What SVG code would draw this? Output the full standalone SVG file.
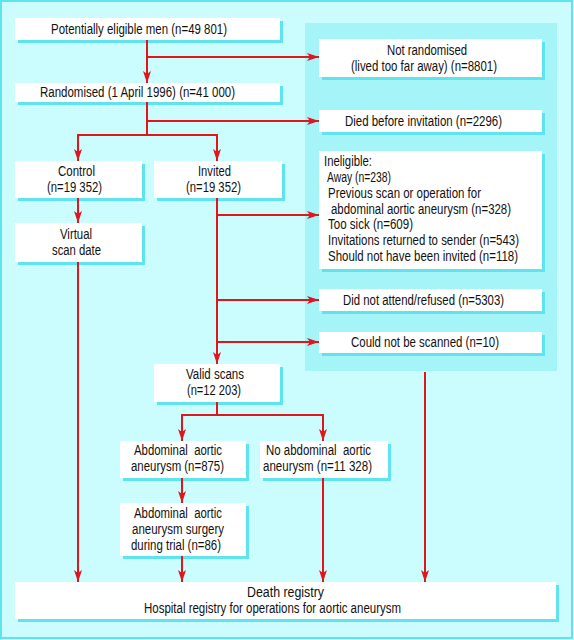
<svg xmlns="http://www.w3.org/2000/svg" width="574" height="640" viewBox="0 0 574 640">
<defs>
<style>
.bg{fill:#ccfdfe;stroke:#5fe3ec;stroke-width:2}
.panel{fill:#a5f5f8}
.sh{fill:#5fe3ec}
.bx{fill:#ffffff}
text{font-family:"Liberation Sans",Arial,sans-serif;font-size:14px;fill:#111}
.pre{white-space:pre}
.ln{fill:none;stroke:#e0161d;stroke-width:2}
</style>
<marker id="ah" viewBox="0 0 12 8" refX="12" refY="4" markerWidth="12" markerHeight="8" markerUnits="userSpaceOnUse" orient="auto">
<path d="M0,0 L12,4 L0,8 L3,4 z" fill="#e0161d"/>
</marker>
</defs>
<rect class="bg" x="1" y="1" width="571" height="637"/>
<rect class="panel" x="305" y="23" width="252" height="348"/>

<g id="n-eligible">
<rect class="sh" x="18" y="21" width="265" height="22"/>
<rect class="bx" x="15" y="18" width="265" height="22"/>
<text x="51" y="34" textLength="176" lengthAdjust="spacingAndGlyphs">Potentially eligible men (n=49 801)</text>
</g>
<g id="n-randomised">
<rect class="sh" x="18" y="86" width="265" height="19"/>
<rect class="bx" x="15" y="83" width="265" height="19"/>
<text x="40" y="97" textLength="195" lengthAdjust="spacingAndGlyphs">Randomised (1 April 1996) (n=41 000)</text>
</g>
<g id="n-control">
<rect class="sh" x="18" y="164" width="127" height="37"/>
<rect class="bx" x="15" y="161" width="127" height="37"/>
<text x="58" y="176" textLength="37" lengthAdjust="spacingAndGlyphs">Control</text>
<text x="47" y="192" textLength="55" lengthAdjust="spacingAndGlyphs">(n=19 352)</text>
</g>
<g id="n-invited">
<rect class="sh" x="157" y="164" width="128" height="37"/>
<rect class="bx" x="154" y="161" width="128" height="37"/>
<text x="198" y="176" textLength="33" lengthAdjust="spacingAndGlyphs">Invited</text>
<text x="186" y="192" textLength="55" lengthAdjust="spacingAndGlyphs">(n=19 352)</text>
</g>
<g id="n-virtual">
<rect class="sh" x="18" y="226" width="127" height="39"/>
<rect class="bx" x="15" y="223" width="127" height="39"/>
<text x="60" y="239" textLength="32" lengthAdjust="spacingAndGlyphs">Virtual</text>
<text x="52" y="255" textLength="49" lengthAdjust="spacingAndGlyphs">scan date</text>
</g>
<g id="n-notrand">
<rect class="sh" x="322" y="42" width="223" height="38"/>
<rect class="bx" x="319" y="39" width="223" height="38"/>
<text x="387" y="55" textLength="80" lengthAdjust="spacingAndGlyphs">Not randomised</text>
<text x="351" y="71" textLength="146" lengthAdjust="spacingAndGlyphs">(lived too far away) (n=8801)</text>
</g>
<g id="n-died">
<rect class="sh" x="322" y="113" width="223" height="22"/>
<rect class="bx" x="319" y="110" width="223" height="22"/>
<text x="345" y="126" textLength="157" lengthAdjust="spacingAndGlyphs">Died before invitation (n=2296)</text>
</g>
<g id="n-ineligible">
<rect class="sh" x="322" y="154" width="223" height="118"/>
<rect class="bx" x="319" y="151" width="223" height="118"/>
<text x="324" y="166" textLength="48" lengthAdjust="spacingAndGlyphs">Ineligible:</text>
<text x="327" y="182" textLength="64" lengthAdjust="spacingAndGlyphs">Away (n=238)</text>
<text x="328" y="198" textLength="153" lengthAdjust="spacingAndGlyphs">Previous scan or operation for</text>
<text x="331" y="214" textLength="180" lengthAdjust="spacingAndGlyphs">abdominal aortic aneurysm (n=328)</text>
<text x="328" y="229" textLength="85" lengthAdjust="spacingAndGlyphs">Too sick (n=609)</text>
<text x="328" y="245" textLength="191" lengthAdjust="spacingAndGlyphs">Invitations returned to sender (n=543)</text>
<text x="328" y="261" textLength="190" lengthAdjust="spacingAndGlyphs">Should not have been invited (n=118)</text>
</g>
<g id="n-dna">
<rect class="sh" x="322" y="292" width="223" height="22"/>
<rect class="bx" x="319" y="289" width="223" height="22"/>
<text x="343" y="305" textLength="161" lengthAdjust="spacingAndGlyphs">Did not attend/refused (n=5303)</text>
</g>
<g id="n-cns">
<rect class="sh" x="322" y="335" width="223" height="21"/>
<rect class="bx" x="319" y="332" width="223" height="21"/>
<text x="351" y="347" textLength="148" lengthAdjust="spacingAndGlyphs">Could not be scanned (n=10)</text>
</g>
<g id="n-valid">
<rect class="sh" x="157" y="367" width="126" height="38"/>
<rect class="bx" x="154" y="364" width="126" height="38"/>
<text x="186" y="379" textLength="58" lengthAdjust="spacingAndGlyphs">Valid scans</text>
<text x="187" y="395" textLength="54" lengthAdjust="spacingAndGlyphs">(n=12 203)</text>
</g>
<g id="n-aaa">
<rect class="sh" x="123" y="444" width="126" height="37"/>
<rect class="bx" x="120" y="441" width="126" height="37"/>
<text class="pre" x="134" y="455" textLength="88" lengthAdjust="spacingAndGlyphs">Abdominal  aortic</text>
<text x="131" y="471" textLength="93" lengthAdjust="spacingAndGlyphs">aneurysm (n=875)</text>
</g>
<g id="n-noaaa">
<rect class="sh" x="263" y="444" width="128" height="37"/>
<rect class="bx" x="260" y="441" width="128" height="37"/>
<text class="pre" x="266" y="455" textLength="105" lengthAdjust="spacingAndGlyphs">No abdominal  aortic</text>
<text x="263" y="471" textLength="109" lengthAdjust="spacingAndGlyphs">aneurysm (n=11 328)</text>
</g>
<g id="n-surgery">
<rect class="sh" x="123" y="506" width="126" height="53"/>
<rect class="bx" x="120" y="503" width="126" height="53"/>
<text class="pre" x="134" y="518" textLength="88" lengthAdjust="spacingAndGlyphs">Abdominal  aortic</text>
<text x="132" y="534" textLength="92" lengthAdjust="spacingAndGlyphs">aneurysm surgery</text>
<text x="131" y="550" textLength="90" lengthAdjust="spacingAndGlyphs">during trial (n=86)</text>
</g>
<g id="n-registry">
<rect class="sh" x="18" y="585" width="541" height="37"/>
<rect class="bx" x="15" y="582" width="541" height="37"/>
<text x="247" y="597" textLength="77" lengthAdjust="spacingAndGlyphs">Death registry</text>
<text x="144" y="613" textLength="257" lengthAdjust="spacingAndGlyphs">Hospital registry for operations for aortic aneurysm</text>
</g>

<g id="connectors">
<path class="ln" d="M147,40 V83" marker-end="url(#ah)"/>
<path class="ln" d="M147,57 H319" marker-end="url(#ah)"/>
<path class="ln" d="M147,102 V135"/>
<path class="ln" d="M147,121 H319" marker-end="url(#ah)"/>
<path class="ln" d="M77,135 H218"/>
<path class="ln" d="M78,135 V161" marker-end="url(#ah)"/>
<path class="ln" d="M217,135 V161" marker-end="url(#ah)"/>
<path class="ln" d="M78,198 V223" marker-end="url(#ah)"/>
<path class="ln" d="M78,262 V582" marker-end="url(#ah)"/>
<path class="ln" d="M217,198 V364" marker-end="url(#ah)"/>
<path class="ln" d="M217,215 H319" marker-end="url(#ah)"/>
<path class="ln" d="M217,300 H319" marker-end="url(#ah)"/>
<path class="ln" d="M217,342 H319" marker-end="url(#ah)"/>
<path class="ln" d="M217,402 V415"/>
<path class="ln" d="M181,415 H324"/>
<path class="ln" d="M182,415 V441" marker-end="url(#ah)"/>
<path class="ln" d="M323,415 V441" marker-end="url(#ah)"/>
<path class="ln" d="M182,478 V503" marker-end="url(#ah)"/>
<path class="ln" d="M182,556 V582" marker-end="url(#ah)"/>
<path class="ln" d="M323,478 V582" marker-end="url(#ah)"/>
<path class="ln" d="M425,372 V582" marker-end="url(#ah)"/>
</g>
</svg>
